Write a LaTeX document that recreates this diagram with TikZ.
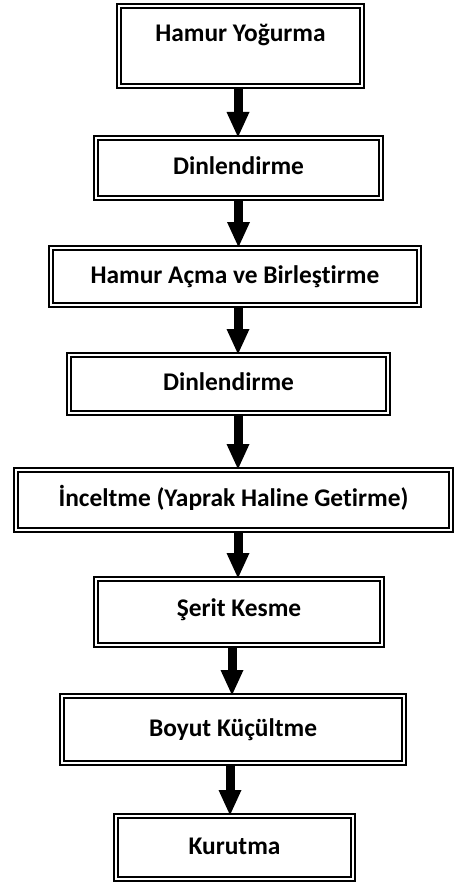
\documentclass[tikz,border=0pt]{standalone}
\usepackage{fontspec}
\setmainfont{Carlito}[Ligatures=NoCommon]
\usetikzlibrary{arrows.meta}

\begin{document}
\begin{tikzpicture}[x=0.5pt,y=-0.5pt,every node/.style={draw,line width=1pt,double,double distance=1pt,text height=9pt,text depth=2.5pt,font=\fontsize{12.7}{15}\selectfont\bfseries},ok/.style={line width=4.5pt,-{Triangle[width=11.5pt,length=12.5pt,line width=0pt]}}]
\useasboundingbox(0,0)rectangle(454,888);
\node(HY)[minimum width=121.5pt,minimum height=40pt,text depth=13.8pt] at (240.5,46){Hamur Yoğurma};
\node(D1)[minimum width=142.5pt,minimum height=30pt] at (238.5,168){Dinlendirme};
\node(HA)[minimum width=184pt,minimum height=28.5pt] at (235,276.5){Hamur Açma ve Birleştirme};
\node(D2)[minimum width=159.5pt,minimum height=29pt] at (228.5,384){Dinlendirme};
\node(IN)[minimum width=217.5pt,minimum height=30pt] at (233.5,500){İnceltme (Yaprak Haline Getirme)};
\node(SK)[minimum width=143pt,minimum height=33pt,text depth=4.5pt] at (239,612){Şerit Kesme};
\node(BK)[minimum width=171pt,minimum height=33.5pt] at (233,729.5){Boyut Küçültme};
\node(KU)[minimum width=118.5pt,minimum height=31.5pt] at (234.5,847.5){Kurutma};
\draw[ok]([xshift=-1.25pt]HY.south)--([xshift=-1.25pt]HY.south|-D1.north);
\draw[ok](D1.south)--(D1.south|-HA.north);
\draw[ok]([xshift=1.5pt]HA.south)--([xshift=1.5pt]HA.south|-D2.north);
\draw[ok]([xshift=4.75pt]D2.south)--([xshift=4.75pt]D2.south|-IN.north);
\draw[ok]([xshift=2.25pt]IN.south)--([xshift=2.25pt]IN.south|-SK.north);
\draw[ok]([xshift=-3.5pt]SK.south)--([xshift=-3.5pt]SK.south|-BK.north);
\draw[ok]([xshift=-1.5pt]BK.south)--([xshift=-1.5pt]BK.south|-KU.north);
\end{tikzpicture}
\end{document}
